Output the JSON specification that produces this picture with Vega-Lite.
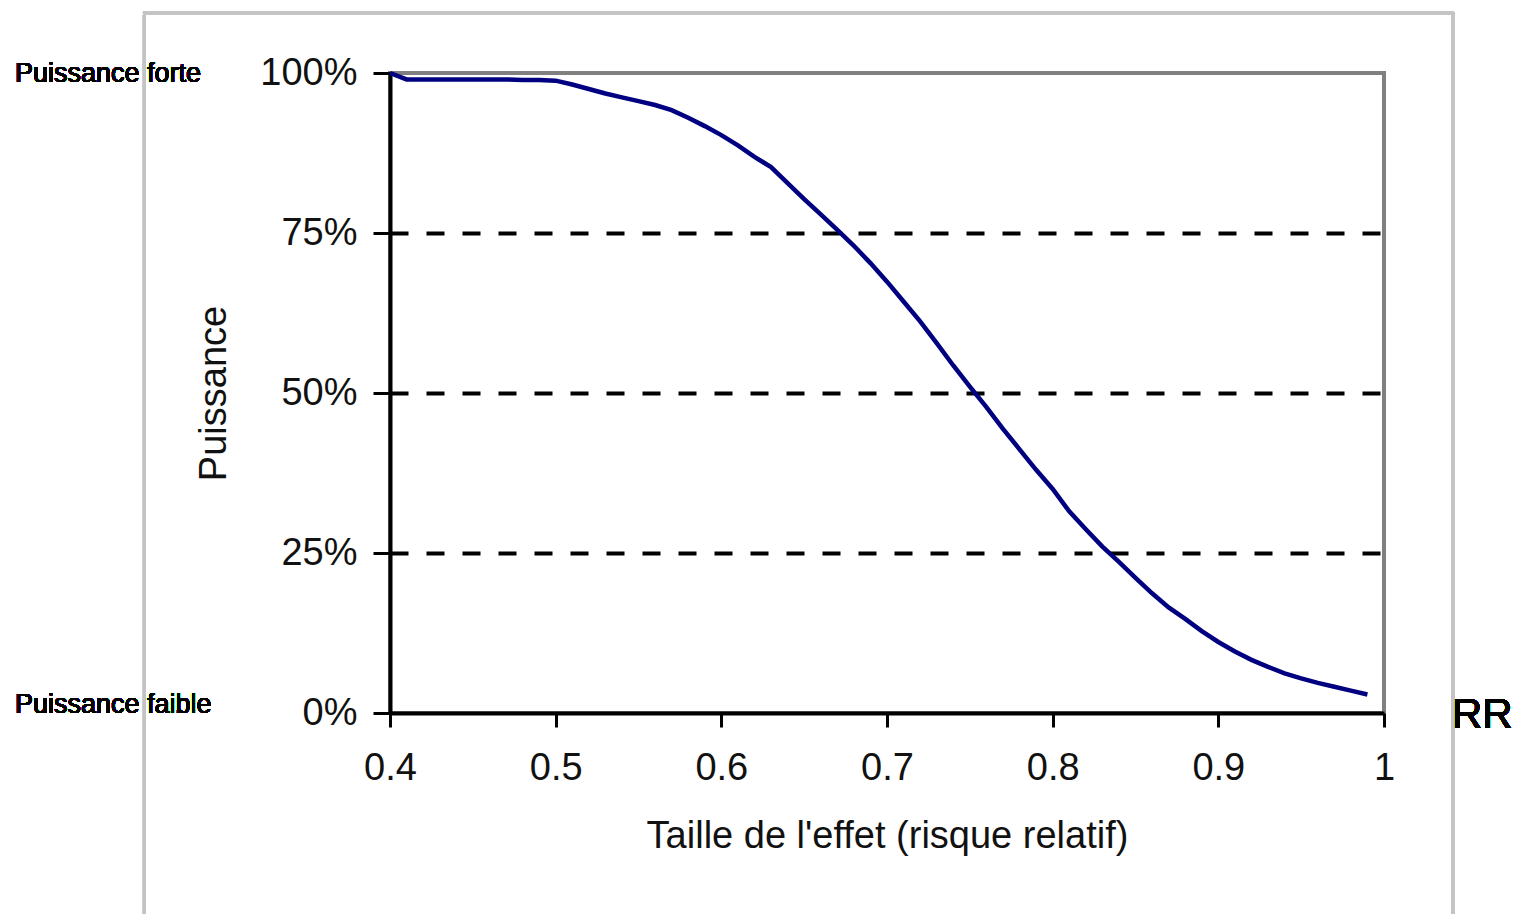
{
  "$schema": "https://vega.github.io/schema/vega-lite/v6.json",
  "width": 994,
  "height": 640,
  "autosize": {"type": "none"},
  "padding": {"left": 390, "top": 73, "right": 140, "bottom": 201},
  "background": "white",
  "config": {
    "view": {"stroke": "#808080", "strokeWidth": 4},
    "font": "Liberation Sans"
  },
  "datasets": {
    "curve": [
      {"RR": 0.40, "Puissance": 1.000},
      {"RR": 0.41, "Puissance": 0.990},
      {"RR": 0.42, "Puissance": 0.990},
      {"RR": 0.43, "Puissance": 0.990},
      {"RR": 0.44, "Puissance": 0.990},
      {"RR": 0.45, "Puissance": 0.990},
      {"RR": 0.46, "Puissance": 0.990},
      {"RR": 0.47, "Puissance": 0.990},
      {"RR": 0.48, "Puissance": 0.989},
      {"RR": 0.49, "Puissance": 0.989},
      {"RR": 0.50, "Puissance": 0.988},
      {"RR": 0.51, "Puissance": 0.982},
      {"RR": 0.52, "Puissance": 0.975},
      {"RR": 0.53, "Puissance": 0.968},
      {"RR": 0.54, "Puissance": 0.962},
      {"RR": 0.55, "Puissance": 0.956},
      {"RR": 0.56, "Puissance": 0.950},
      {"RR": 0.57, "Puissance": 0.942},
      {"RR": 0.58, "Puissance": 0.930},
      {"RR": 0.59, "Puissance": 0.917},
      {"RR": 0.60, "Puissance": 0.903},
      {"RR": 0.61, "Puissance": 0.887},
      {"RR": 0.62, "Puissance": 0.869},
      {"RR": 0.63, "Puissance": 0.853},
      {"RR": 0.64, "Puissance": 0.828},
      {"RR": 0.65, "Puissance": 0.803},
      {"RR": 0.66, "Puissance": 0.779},
      {"RR": 0.67, "Puissance": 0.755},
      {"RR": 0.68, "Puissance": 0.730},
      {"RR": 0.69, "Puissance": 0.703},
      {"RR": 0.70, "Puissance": 0.674},
      {"RR": 0.71, "Puissance": 0.643},
      {"RR": 0.72, "Puissance": 0.612},
      {"RR": 0.73, "Puissance": 0.578},
      {"RR": 0.74, "Puissance": 0.543},
      {"RR": 0.75, "Puissance": 0.510},
      {"RR": 0.76, "Puissance": 0.478},
      {"RR": 0.77, "Puissance": 0.444},
      {"RR": 0.78, "Puissance": 0.412},
      {"RR": 0.79, "Puissance": 0.380},
      {"RR": 0.80, "Puissance": 0.350},
      {"RR": 0.81, "Puissance": 0.315},
      {"RR": 0.82, "Puissance": 0.287},
      {"RR": 0.83, "Puissance": 0.260},
      {"RR": 0.84, "Puissance": 0.236},
      {"RR": 0.85, "Puissance": 0.211},
      {"RR": 0.86, "Puissance": 0.187},
      {"RR": 0.87, "Puissance": 0.165},
      {"RR": 0.88, "Puissance": 0.147},
      {"RR": 0.89, "Puissance": 0.128},
      {"RR": 0.90, "Puissance": 0.111},
      {"RR": 0.91, "Puissance": 0.096},
      {"RR": 0.92, "Puissance": 0.083},
      {"RR": 0.93, "Puissance": 0.072},
      {"RR": 0.94, "Puissance": 0.062},
      {"RR": 0.95, "Puissance": 0.054},
      {"RR": 0.96, "Puissance": 0.047},
      {"RR": 0.97, "Puissance": 0.041},
      {"RR": 0.98, "Puissance": 0.035},
      {"RR": 0.99, "Puissance": 0.029}
    ]
  },
  "data": {"name": "curve"},
  "layer": [
    {
      "mark": {"type": "line", "stroke": "#000080", "strokeWidth": 4.5, "interpolate": "linear", "clip": false},
      "encoding": {
        "x": {
          "field": "RR", "type": "quantitative",
          "scale": {"domain": [0.4, 1], "nice": false, "zero": false},
          "axis": {
            "title": "Taille de l'effet (risque relatif)",
            "values": [0.4, 0.5, 0.6, 0.7, 0.8, 0.9, 1],
            "labelExpr": "datum.value == 1 ? '1' : format(datum.value, '.1f')",
            "labelFlush": false, "labelOverlap": false, "labelBound": false,
            "labelFont": "Liberation Sans", "labelFontSize": 38, "labelColor": "#111",
            "labelPadding": 22,
            "titleFont": "Liberation Sans", "titleFontSize": 38, "titleFontWeight": "normal", "titleColor": "#111",
            "titlePadding": 30,
            "domainColor": "black", "domainWidth": 4,
            "tickColor": "black", "tickWidth": 3, "tickSize": 14,
            "grid": false
          }
        },
        "y": {
          "field": "Puissance", "type": "quantitative",
          "scale": {"domain": [0, 1], "nice": false},
          "axis": {
            "title": "Puissance",
            "values": [0, 0.25, 0.5, 0.75, 1],
            "format": ".0%",
            "labelFlush": false, "labelOverlap": false, "labelBound": false,
            "labelFont": "Liberation Sans", "labelFontSize": 38, "labelColor": "#111",
            "labelPadding": 16,
            "titleFont": "Liberation Sans", "titleFontSize": 38, "titleFontWeight": "normal", "titleColor": "#111",
            "titlePadding": 26,
            "domainColor": "black", "domainWidth": 4,
            "tickColor": "black", "tickWidth": 3, "tickSize": 17,
            "grid": true, "gridColor": "black", "gridWidth": 4, "gridDash": [18, 18],
            "gridOpacity": {"condition": {"test": "datum.value == 0 || datum.value == 1", "value": 0}, "value": 1}
          }
        }
      }
    },
    {
      "mark": {"type": "rect", "fill": null, "stroke": "#c4c4c4", "strokeWidth": 3, "clip": false},
      "encoding": {
        "x": {"datum": 0.2518, "type": "quantitative"},
        "x2": {"datum": 1.0414},
        "y": {"datum": 1.0933, "type": "quantitative"},
        "y2": {"datum": -0.4}
      }
    },
    {
      "mark": {"type": "text", "align": "left", "baseline": "alphabetic", "fontSize": 27, "font": "Liberation Sans", "fill": "black", "stroke": null, "clip": false},
      "encoding": {
        "x": {"datum": 0.1736, "type": "quantitative"},
        "y": {"datum": 0.986, "type": "quantitative"},
        "text": {"value": "Puissance forte"}
      }
    },
    {
      "mark": {"type": "text", "align": "left", "baseline": "alphabetic", "fontSize": 27, "font": "Liberation Sans", "fill": "black", "stroke": null, "clip": false},
      "encoding": {
        "x": {"datum": 0.1736, "type": "quantitative"},
        "y": {"datum": 0.0, "type": "quantitative"},
        "text": {"value": "Puissance faible"}
      }
    },
    {
      "mark": {"type": "text", "align": "left", "baseline": "alphabetic", "fontSize": 42, "font": "Liberation Sans", "fill": "black", "stroke": null, "clip": false},
      "encoding": {
        "x": {"datum": 1.041, "type": "quantitative"},
        "y": {"datum": -0.0234, "type": "quantitative"},
        "text": {"value": "RR"}
      }
    }
  ]
}
